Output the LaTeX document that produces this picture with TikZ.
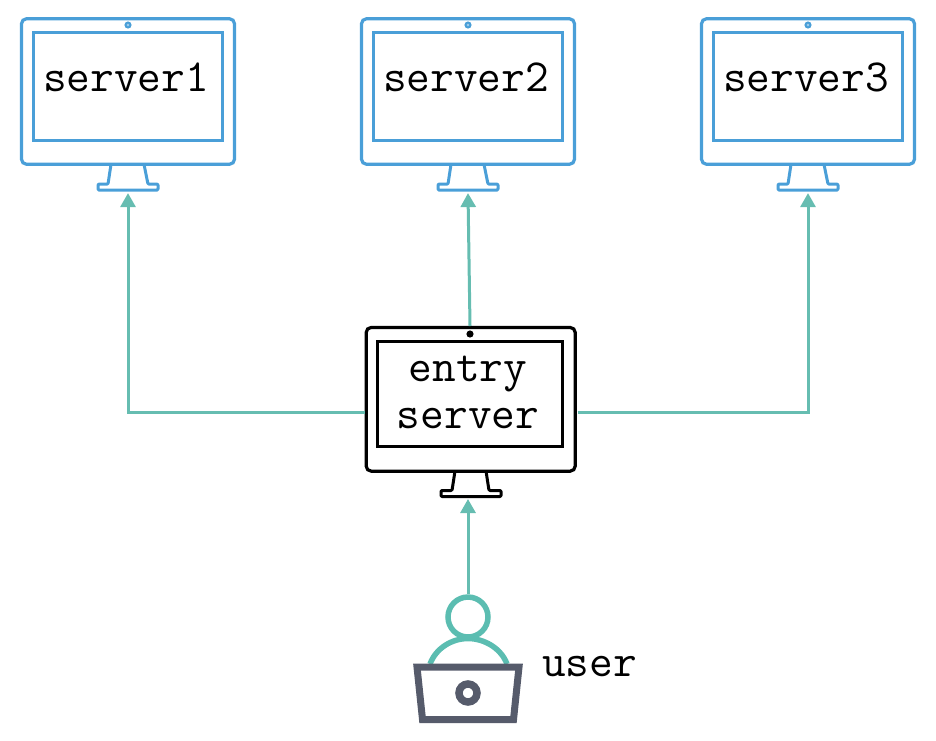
\documentclass[tikz,border=0pt]{standalone}
\usepackage{fontspec}
\usetikzlibrary{arrows.meta}
\definecolor{mblue}{HTML}{4A9FD8}
\definecolor{mteal}{HTML}{66BDB1}
\definecolor{pteal}{HTML}{5BBDB1}
\definecolor{lapgray}{HTML}{565B6B}
\tikzset{
  outerbox/.style={draw=#1,line width=3.2pt,rounded corners=5pt,minimum width=213pt,minimum height=145.5pt,inner sep=0pt},
  innerbox/.style={draw=#1,line width=3.2pt,minimum width=189pt,minimum height=107.7pt,inner sep=0pt},
  standline/.style={draw=#1,line width=3pt,line join=round,rounded corners=1pt},
  cam/.style={draw=#1,fill=#1!55!white,line width=2pt,circle,minimum size=5pt,inner sep=0pt},
  label/.style={font=\ttfamily\fontsize{46}{50}\selectfont,text=black,inner sep=0pt,anchor=base},
  link/.style={draw=mteal,line width=3pt,-{Triangle[length=14pt,width=15pt]}},
}
\newcommand{\monitor}[3]{% name, center x of outer box, text
  \node[outerbox=mblue] (#1) at (#2,91.5) {};
  \node[innerbox=mblue] (#1i) at ([xshift=-0.2pt,yshift=5.2pt]#1.center) {};
  \node[cam=mblue] (#1c) at ([yshift=66.5pt]#1.center) {};
  \path[standline=mblue] ([xshift=-17pt,yshift=1.5pt]#1.south) -- ++(-3,19.75) -- ++(-10,0) -- ++(0,6) -- ++(60,0) -- ++(0,-6) -- ++(-10,0) -- ++(-4,-19.75);
  \coordinate (#1b) at ([yshift=-27.25pt]#1.south);
  \node[label] (#1t) at (#2-2,91) {#3};
}
\begin{document}
\begin{tikzpicture}[x=1pt,y=-1pt]
\useasboundingbox (0,0) rectangle (936,740);
\monitor{sa}{128}{server1}
\monitor{sb}{468}{server2}
\monitor{sc}{808}{server3}
% entry server
\node[outerbox=black,minimum width=209pt,minimum height=143.7pt] (en) at (470.7,399.3) {};
\node[innerbox=black,minimum width=185pt,minimum height=105.3pt] (eni) at (470.3,394.2) {};
\node[cam=black,fill=black] (enc) at (470,334) {};
\path[standline=black] (455,471) -- (452,490.5) -- (441,490.5) -- (441,496.5) -- (501,496.5) -- (501,490.5) -- (489,490.5) -- (486,471);
\node[label] (ent1) at (468,381) {entry};
\node[label] (ent2) at (468,428) {server};
\coordinate (enl) at (364.5,412);
\coordinate (enr) at (577.5,412);
\coordinate (ent) at (470,326);
\coordinate (enb) at (468,499);
% connectors
\draw[link] (enl) -| (sab);
\draw[link] (enr) -| (scb);
\draw[link] (ent) -- (sbb);
% user
\node[draw=pteal,line width=5.5pt,circle,minimum size=40pt,inner sep=0pt] (head) at (468,617) {};
\coordinate (shl) at (430,664);
\coordinate (shr) at (507,664);
\draw[pteal,line width=5.5pt] (shl) .. controls (436,648) and (452,638.5) .. (468,638.5) .. controls (484,638.5) and (501,648) .. (shr);
\draw[draw=lapgray,line width=7pt,miter limit=10] (417,667) -- (422.5,719.5) -- (513.5,719.5) -- (519,667) -- cycle;
\node[draw=lapgray,line width=7.5pt,circle,minimum size=18pt,inner sep=0pt] (lapcam) at (468,693) {};
\draw[link] (head.north) -- (enb);
\node[label,anchor=base west] (usr) at (542,676) {user};
\end{tikzpicture}
\end{document}
